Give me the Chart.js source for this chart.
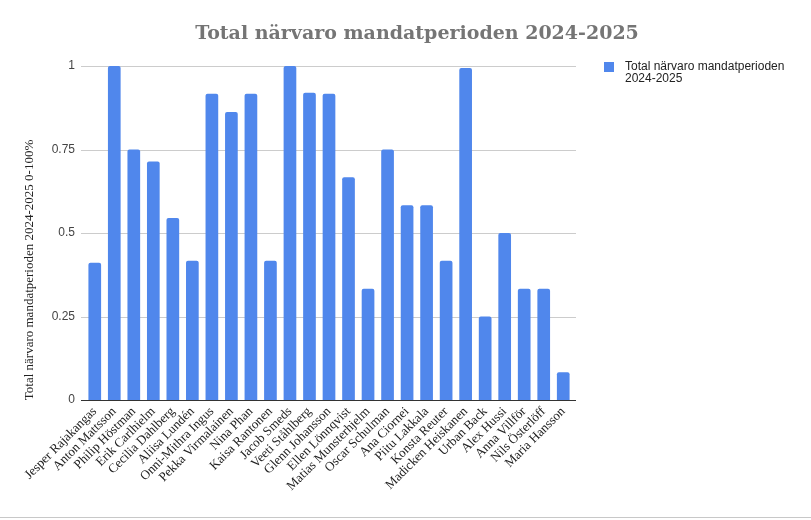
<!DOCTYPE html>
<html>
<head>
<meta charset="utf-8">
<script src="https://cdn.jsdelivr.net/npm/chart.js@4.4.1/dist/chart.umd.min.js"></script>
<style>
    html, body { margin: 0; padding: 0; background: #fff; }
    #wrap { position: relative; width: 811px; height: 520px; }
    #bottomLine { position: absolute; left: 0; top: 517px; width: 811px; height: 1px; background: #c8c8c8; }
</style>
</head>
<body>
<div id="wrap">
    <canvas id="myChart" width="811" height="520"></canvas>
    <div id="bottomLine"></div>
</div>
<script>
'use strict';
var chartTitle = 'Total närvaro mandatperioden 2024-2025';
var seriesName = 'Total närvaro mandatperioden 2024-2025';
var legendLines = ['Total närvaro mandatperioden', '2024-2025'];
var yAxisTitle = 'Total närvaro mandatperioden 2024-2025 0-100%';
var members = [
    'Jesper Rajakangas', 'Anton Mattsson', 'Philip Höstman', 'Erik Carlhielm', 'Cecilia Dahlberg',
    'Aliisa Lundén', 'Onni-Mithra Ingus', 'Pekka Virmalainen', 'Nina Phan', 'Kaisa Rantonen',
    'Jacob Smeds', 'Veeti Ståhlberg', 'Glenn Johansson', 'Ellen Lönnqvist', 'Matias Munsterhjelm',
    'Oscar Schulman', 'Ana Ciornei', 'Piitu Lakkala', 'Konsta Reuter', 'Madicken Heiskanen',
    'Urban Back', 'Alex Hussi', 'Anna Villför', 'Nils Österlöff', 'Maria Hansson'
];
var attendance = [
    0.411, 1, 0.75, 0.714, 0.545,
    0.417, 0.917, 0.862, 0.917, 0.417,
    1, 0.92, 0.917, 0.667, 0.333,
    0.75, 0.583, 0.583, 0.417, 0.994,
    0.25, 0.5, 0.333, 0.333, 0.083
];
var yTicks = [0, 0.25, 0.5, 0.75, 1];
var barColor = '#5087ec';
var serif = '"Liberation Serif", "Times New Roman", serif';
var sans = '"Liberation Sans", Arial, sans-serif';

// gridlines run a little wider than the bar area, like in the sheet
var gridPlugin = {
    id: 'sheetGrid',
    beforeDatasetsDraw: function (chart) {
        var ctx = chart.ctx;
        var y = chart.scales.y;
        var x0 = chart.chartArea.left - 4;
        var x1 = chart.chartArea.right + 3;
        ctx.save();
        yTicks.forEach(function (v) {
            var py = Math.round(y.getPixelForValue(v)) + 0.5;
            ctx.strokeStyle = v === 0 ? '#333' : '#cccccc';
            ctx.lineWidth = 1;
            ctx.beginPath();
            ctx.moveTo(x0, py);
            ctx.lineTo(x1, py);
            ctx.stroke();
        });
        ctx.restore();
    }
};

// title, axis title and legend drawn by hand so they sit where the sheet has them
var textPlugin = {
    id: 'sheetText',
    afterDraw: function (chart) {
        var ctx = chart.ctx;
        ctx.save();
        ctx.font = 'bold 19px "DejaVu Serif", Georgia, serif';
        ctx.fillStyle = '#757575';
        ctx.textAlign = 'center';
        ctx.textBaseline = 'middle';
        ctx.fillText(chartTitle, 417, 34);

        ctx.save();
        ctx.translate(30, 270);
        ctx.rotate(-Math.PI / 2);
        ctx.font = '13px ' + serif;
        ctx.fillStyle = '#222';
        ctx.fillText(yAxisTitle, 0, 0);
        ctx.restore();

        ctx.fillStyle = barColor;
        ctx.fillRect(604, 62, 10, 10);
        ctx.font = '12px ' + sans;
        ctx.fillStyle = '#222';
        ctx.textAlign = 'left';
        legendLines.forEach(function (line, i) {
            ctx.fillText(line, 625, 67 + i * 12);
        });
        ctx.restore();
    }
};

var ctx = document.getElementById('myChart');
var myChart = new Chart(ctx, {
    type: 'bar',
    data: {
        labels: members,
        datasets: [{
            label: seriesName,
            data: attendance,
            backgroundColor: barColor,
            borderRadius: { topLeft: 2, topRight: 2 },
            borderSkipped: 'bottom',
            barPercentage: 0.65,
            categoryPercentage: 1
        }]
    },
    options: {
        responsive: false,
        animation: false,
        layout: { padding: { top: 66, right: 238, left: 0, bottom: 0 } },
        plugins: {
            legend: { display: false },
            title: { display: false },
            tooltip: { enabled: false }
        },
        scales: {
            x: {
                grid: { display: false, drawTicks: false },
                border: { display: false },
                ticks: {
                    color: '#222',
                    font: { family: serif, size: 13 },
                    maxRotation: 45,
                    minRotation: 45,
                    autoSkip: false,
                    padding: 4
                },
                afterFit: function (scale) { scale.height = 120; }
            },
            y: {
                min: 0,
                max: 1,
                afterBuildTicks: function (scale) {
                    scale.ticks = yTicks.map(function (v) { return { value: v }; });
                },
                grid: { display: false, drawTicks: false },
                border: { display: false },
                ticks: {
                    color: '#444',
                    font: { family: sans, size: 12 },
                    padding: 10,
                    callback: function (value) { return String(value); }
                },
                afterFit: function (scale) { scale.width = 85; }
            }
        }
    },
    plugins: [gridPlugin, textPlugin]
});
</script>
</body>
</html>
